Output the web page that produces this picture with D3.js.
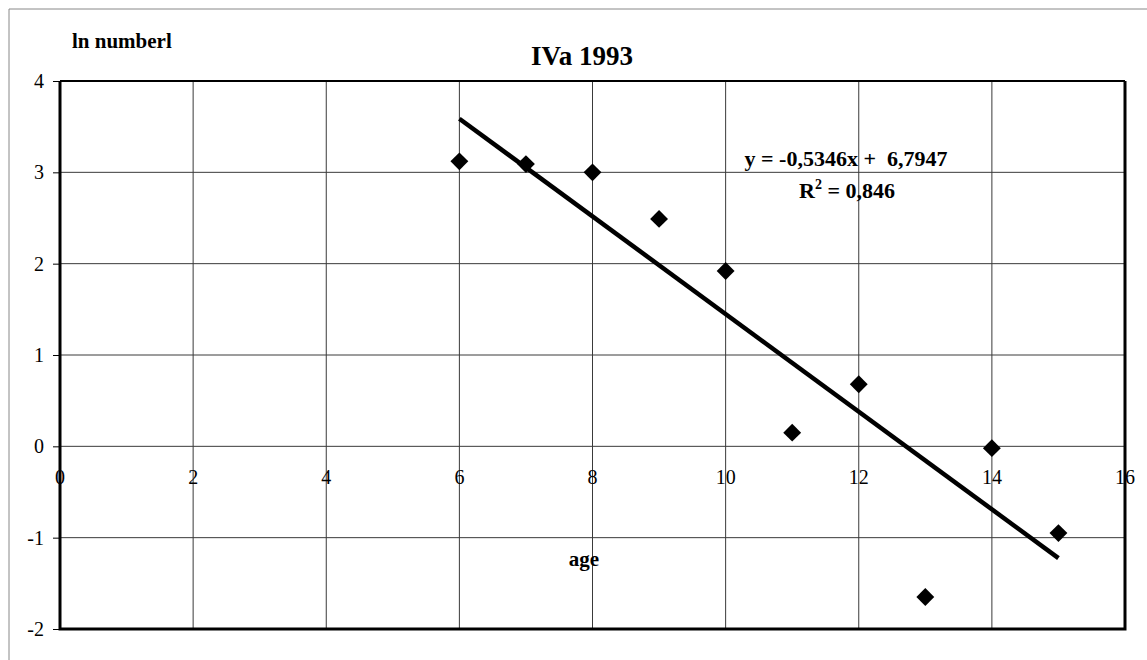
<!DOCTYPE html>
<html>
<head>
<meta charset="utf-8">
<script src="https://cdn.jsdelivr.net/npm/d3@7"></script>
<style>
  html, body { margin: 0; padding: 0; background: #fff; }
  svg { display: block; }
  svg text { font-family: "Liberation Serif", "DejaVu Serif", serif; }
</style>
</head>
<body>
<svg id="chart" width="1147" height="660"></svg>
<script>
// Catch-curve data: ln(number) by age, IVa 1993
const ages = [6, 7, 8, 9, 10, 11, 12, 13, 14, 15];
const lnNumber = [3.12, 3.09, 3.00, 2.49, 1.92, 0.15, 0.68, -1.65, -0.02, -0.95];
const xTicks = [0, 2, 4, 6, 8, 10, 12, 14, 16];
const yTicks = [-2, -1, 0, 1, 2, 3, 4];
const trendSlope = -0.5346;
const trendIntercept = 6.7947;
const rSquared = "0,846";
const trendRange = [6, 15];

const SERIF = "Liberation Serif";
const svg = d3.select("#chart");
const plot = { left: 60, right: 1125, top: 81, bottom: 629 };

const x = d3.scaleLinear().domain([0, 16]).range([plot.left, plot.right]);
const y = d3.scaleLinear().domain([-2, 4]).range([plot.bottom, plot.top]);

// outer frame (left and top edges visible)
svg.append("path")
  .attr("d", `M9,660 L9,9 L1147,9`)
  .attr("fill", "none").attr("stroke", "#888").attr("stroke-width", 1);

// grid
const grid = svg.append("g").attr("stroke", "#3a3a3a").attr("stroke-width", 1);
grid.selectAll("line.v").data(xTicks.slice(1, -1)).join("line")
  .attr("x1", d => x(d)).attr("x2", d => x(d))
  .attr("y1", plot.top).attr("y2", plot.bottom);
grid.selectAll("line.h").data(yTicks.slice(1, -1)).join("line")
  .attr("x1", plot.left).attr("x2", plot.right)
  .attr("y1", d => y(d)).attr("y2", d => y(d));

// y axis with short outward ticks
const yAxis = svg.append("g")
  .attr("transform", `translate(${plot.left},0)`)
  .call(d3.axisLeft(y).tickValues(yTicks).tickSize(7).tickPadding(9).tickFormat(d => String(d)));
yAxis.attr("font-family", SERIF).attr("font-size", 20);
yAxis.select(".domain").remove();
yAxis.selectAll(".tick line").attr("stroke", "#000").attr("stroke-width", 1);
yAxis.selectAll(".tick text").attr("fill", "#000");

// x tick labels sit just below the zero line, centred on each vertical grid line
svg.append("g").selectAll("text").data(xTicks).join("text")
  .attr("x", d => x(d)).attr("y", y(0) + 38)
  .attr("text-anchor", "middle")
  .attr("font-family", SERIF).attr("font-size", 20).attr("fill", "#000")
  .text(d => String(d));

// plot frame
svg.append("path")
  .attr("d", `M${plot.left},${plot.top} L${plot.right},${plot.top}`)
  .attr("stroke", "#000").attr("stroke-width", 2);
svg.append("path")
  .attr("d", `M${plot.left},${plot.top} L${plot.left},${plot.bottom} L${plot.right},${plot.bottom} L${plot.right},${plot.top}`)
  .attr("fill", "none").attr("stroke", "#000").attr("stroke-width", 3);

// linear trend line
svg.append("line")
  .attr("x1", x(trendRange[0])).attr("y1", y(trendSlope * trendRange[0] + trendIntercept))
  .attr("x2", x(trendRange[1])).attr("y2", y(trendSlope * trendRange[1] + trendIntercept))
  .attr("stroke", "#000").attr("stroke-width", 4.5);

// diamond markers
svg.append("g").selectAll("path").data(ages).join("path")
  .attr("d", d3.symbol().type(d3.symbolSquare).size(160))
  .attr("transform", (d, i) => `translate(${x(d)},${y(lnNumber[i])}) rotate(45)`)
  .attr("fill", "#000");

// titles and labels
svg.append("text").attr("x", 582).attr("y", 65)
  .attr("text-anchor", "middle").attr("font-family", SERIF)
  .attr("font-weight", "bold").attr("font-size", 27)
  .text("IVa 1993");
svg.append("text").attr("x", 72).attr("y", 48)
  .attr("font-family", SERIF).attr("font-weight", "bold").attr("font-size", 21)
  .text("ln numberl");
svg.append("text").attr("x", 584).attr("y", 566)
  .attr("text-anchor", "middle").attr("font-family", SERIF)
  .attr("font-weight", "bold").attr("font-size", 21)
  .text("age");

// regression equation
const fmt = v => Math.abs(v).toFixed(4).replace(".", ",");
svg.append("text").attr("x", 846).attr("y", 166)
  .attr("text-anchor", "middle").attr("font-family", SERIF)
  .attr("font-weight", "bold").attr("font-size", 22)
  .attr("xml:space", "preserve")
  .text(`y = ${trendSlope < 0 ? "-" : ""}${fmt(trendSlope)}x +  ${fmt(trendIntercept)}`);
const r2 = svg.append("text").attr("x", 847).attr("y", 198)
  .attr("text-anchor", "middle").attr("font-family", SERIF)
  .attr("font-weight", "bold").attr("font-size", 22)
  .attr("xml:space", "preserve");
r2.append("tspan").text("R");
r2.append("tspan").attr("font-size", 14).attr("dy", -9).text("2");
r2.append("tspan").attr("dy", 9).text(` = ${rSquared}`);
</script>
</body>
</html>
